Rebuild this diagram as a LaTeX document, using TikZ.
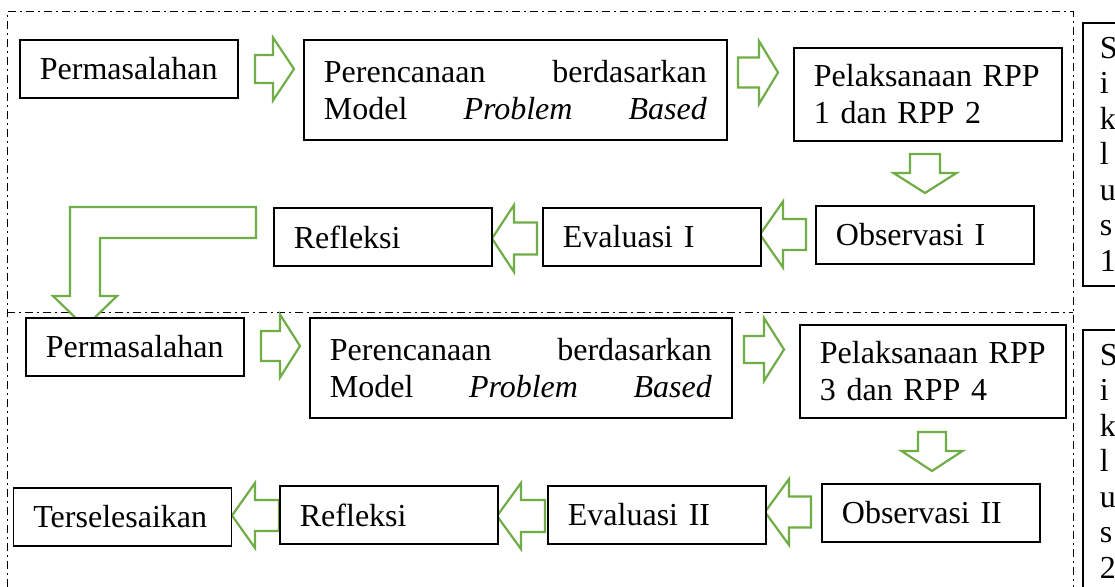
\documentclass[tikz,border=0pt]{standalone}
\usepackage{fontspec}
\setmainfont{Liberation Serif}
\usetikzlibrary{positioning}
\definecolor{hijau}{RGB}{112,173,71}
\tikzset{
  kotak/.style={draw, line width=0.9pt, fill=white, anchor=north west, align=left,
    inner xsep=10pt, inner ysep=0pt, text width=89pt, minimum height=29pt},
  siklus/.style={kotak, inner xsep=8.5pt, text width=10pt, minimum height=131.5pt,
    font=\fontsize{16}{17.75}\selectfont},
  panahhijau/.style={draw=hijau, line width=1.1pt, fill=white, line join=miter},
  bingkai/.style={line width=0.5pt, dash pattern=on 4pt off 2pt on 1pt off 2pt}
}
% block arrow: options, length, head length, shaft half width, head half width
\newcommand{\panahblok}[5]{%
  \draw[panahhijau,#1] (0,-#4) -- (#2-#3,-#4) -- (#2-#3,-#5) -- (#2,0)
    -- (#2-#3,#5) -- (#2-#3,#4) -- (0,#4) -- cycle;}
\begin{document}
\begin{tikzpicture}[x=0.5pt,y=-0.5pt,font=\fontsize{16}{18.5}\selectfont]
\useasboundingbox (0,0) rectangle (1115,587);
\clip (0,0) rectangle (1115,587);
% frames
\draw[bingkai] (7,587) -- (7,12) -- (1073,12) -- (1073,587);
\draw[bingkai] (7,313) -- (1073,313);
% arrows, cycle 1
\panahblok{shift={(255,69)}}{39}{21}{14}{31.5}
\panahblok{shift={(738,72.5)}}{40}{19}{15}{31.5}
\panahblok{shift={(925,154)},rotate=-90}{39}{20}{15}{31.5}
\panahblok{shift={(806,234.5)},rotate=180}{46}{23}{15.5}{33}
\panahblok{shift={(537,238.5)},rotate=180}{45}{22}{16}{33.5}
\draw[panahhijau] (256,207) -- (70,207) -- (70,296) -- (53,296) -- (85,327)
  -- (117,296) -- (100,296) -- (100,238) -- (256,238) -- cycle;
% arrows, cycle 2
\panahblok{shift={(261,346)}}{39}{20}{15}{31.5}
\panahblok{shift={(744,349.5)}}{40}{20}{13.5}{31.5}
\panahblok{shift={(932,432)},rotate=-90}{39}{20}{14}{30.5}
\panahblok{shift={(811,512)},rotate=180}{46}{24}{15.5}{33}
\panahblok{shift={(545,516)},rotate=180}{48}{24}{16}{33}
\panahblok{shift={(279,515.5)},rotate=180}{47}{23}{15.5}{32.5}
% cycle 1
\node[kotak] (masalah1) at (19,39) {Permasalahan};
\node[kotak, text width=191.5pt, minimum height=50pt] (rencana1) at (303,39)
  {Perencanaan\hfill berdasarkan\\Model\hfill\textit{Problem}\hfill\textit{Based}};
\node[kotak, text width=114pt, minimum height=46.5pt] (laksana1) at (793,47)
  {Pelaksanaan RPP\\1 dan RPP 2};
\node[kotak] (obs1) at (815,205) {Observasi I};
\node[kotak] (eval1) at (542,207) {Evaluasi I};
\node[kotak] (refl1) at (273,207) {Refleksi};
\node[siklus] (siklus1) at (1082,22) {S\\i\\k\\l\\u\\s\\1};
% cycle 2
\node[kotak] (masalah2) at (25,317) {Permasalahan};
\node[kotak, text width=191pt, minimum height=50pt] (rencana2) at (309,317)
  {Perencanaan\hfill berdasarkan\\Model\hfill\textit{Problem}\hfill\textit{Based}};
\node[kotak, text width=113pt, minimum height=46.5pt] (laksana2) at (799,324)
  {Pelaksanaan RPP\\3 dan RPP 4};
\node[kotak] (obs2) at (821,483) {Observasi II};
\node[kotak] (eval2) at (547,485) {Evaluasi II};
\node[kotak] (refl2) at (279,485) {Refleksi};
\node[kotak] (selesai) at (12.5,487) {Terselesaikan};
\node[siklus] (siklus2) at (1082,329) {S\\i\\k\\l\\u\\s\\2};
\end{tikzpicture}
\end{document}
